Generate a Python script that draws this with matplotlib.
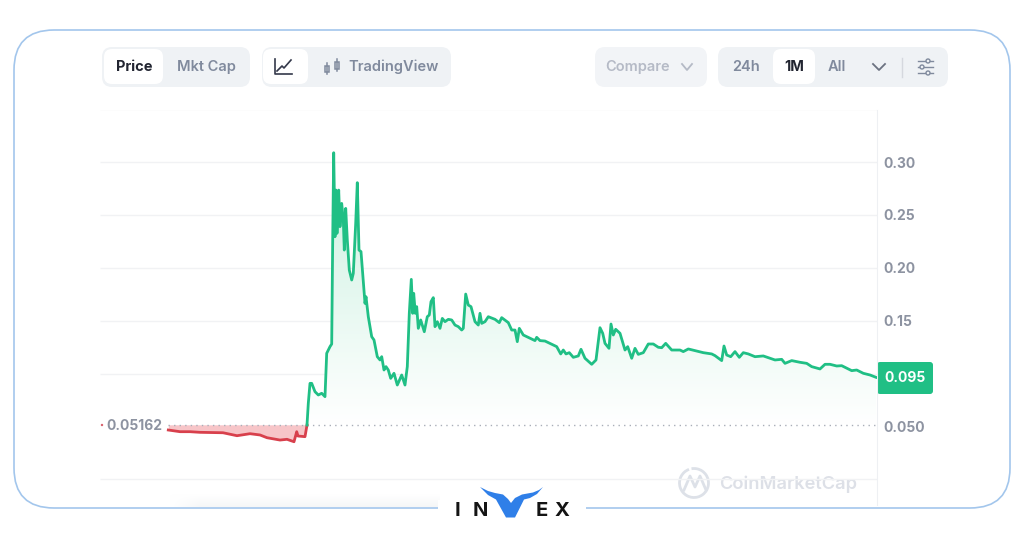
import numpy as np
import matplotlib
matplotlib.use('Agg')
import matplotlib.pyplot as plt
from matplotlib.patches import FancyBboxPatch, Rectangle, Circle, Arc, Polygon

plt.rcParams['font.family'] = ['Inter', 'DejaVu Sans']

# hours since the start of the window, price in USD
red_hours = [0.3, 12, 22, 32, 55, 69, 82, 92, 99, 112, 119, 126, 128.7, 130, 137, 139]
red_price = [.0467, .0451, .0451, .0445, .0441, .0413, .0432, .0420, .0394, .0372, .0379, .0356,
             .0451, .0410, .0404, .0514]

green_hours = [139, 140.3, 142, 143.7, 147, 150.3, 153.7, 157, 158.7, 162, 163.7, 164.7, 165.7, 167, 168,
               169, 170.7, 172, 173.7, 175.3, 176.3, 177.7, 179.3, 181.3, 183.7, 185.3, 187.7, 189.3, 191,
               193, 194.7, 197, 198, 200.3, 203.7, 206, 209.3, 212, 213.7, 216, 218, 220.3, 222.7, 226,
               229.3, 233.7, 237, 239.3, 241.3, 243.3, 244.7, 245.7, 247.3, 248.7, 250.3, 252.7, 256.3,
               259.3, 261.3, 263, 265.3, 267, 269.3, 272, 274.3, 277, 280.3, 283.7, 287, 290.3, 293.7,
               295.3, 297.7, 300.3, 303, 307, 310.3, 312, 313.7, 317, 320.3,
               327, 331.3, 333.7, 340.3, 343.7, 347, 349.3, 351.3, 355.3, 362, 367, 368.7, 372, 377,
               383.7, 388.7, 392.7, 395.3, 398, 401.3, 405.3, 410.3, 413, 417, 423.7, 428, 432, 434.7,
               437, 441, 443, 445.3, 447.7, 452, 457, 459.7, 463.7, 467, 470.3, 475.3, 480.3, 485.3,
               490.3, 493.7, 497.7, 503.7, 512, 515.3, 520.3,
               535.3, 543.7, 547, 553.7, 556, 558.7, 562.7, 567, 571.3, 575.3, 580.3, 587, 595.3, 607,
               613.7, 617, 623.7, 632, 638.7, 643.7, 652, 657, 662, 668.7, 673.7, 683.7, 688.7, 695.3,
               702, 708]
green_price = [.0514, .0719, .0908, .0908, .0829, .0798, .0814, .0782, .1192, .1255, .1280, .2263, .3088,
               .2294, .2735, .2326, .2735, .2389, .2609, .2452, .2168, .2562, .2263, .1979, .1885, .1948,
               .2420, .2805, .2168, .2153, .1948, .1664, .1727, .1538, .1349, .1318, .1160, .1129, .1160,
               .1034, .1066, .1034, .0955, .1003, .0892, .0987, .0892, .1066, .1570, .1891, .1570, .1759,
               .1570, .1633, .1428, .1507, .1396, .1538, .1554, .1680, .1718, .1444, .1491, .1428, .1522,
               .1491, .1513, .1507, .1459, .1444, .1412, .1428, .1752, .1648, .1633, .1491, .1459, .1570,
               .1475, .1491, .1538,
               .1513, .1482, .1529, .1482, .1412, .1412, .1302, .1428, .1365, .1334, .1312, .1343, .1312,
               .1308, .1277, .1255, .1186, .1223, .1186, .1198, .1154, .1167, .1230, .1145, .1088, .1129,
               .1434, .1381, .1286, .1239, .1469, .1365, .1419, .1381, .1223, .1255, .1145, .1239, .1182,
               .1198, .1280, .1280, .1249, .1245, .1286, .1223, .1223, .1208, .1233,
               .1198, .1186, .1170, .1123, .1261, .1176, .1160, .1208, .1154, .1198, .1186, .1160, .1167,
               .1129, .1135, .1097, .1123, .1107, .1097, .1066, .1044, .1088, .1088, .1072, .1075, .1028,
               .1034, .1003, .0987, .0965]

baseline = 0.05162
last_price = '0.095'
grid_levels = [0, .10, .15, .20, .25, .30, .35]
tick_levels = [.05, .10, .15, .20, .25, .30]
tick_labels = ['0.050', '', '0.15', '0.20', '0.25', '0.30']

W, H = 1024, 538
GREEN = '#20bf85'
RED = '#d8404c'
GREY = '#8d93a1'

fig = plt.figure(figsize=(W / 100, H / 100), dpi=100, facecolor='white')

# page layer in pixel coordinates
bg = fig.add_axes([0, 0, 1, 1], zorder=0)
bg.set_xlim(0, W)
bg.set_ylim(H, 0)
bg.axis('off')

# chart
ax = fig.add_axes([100 / W, 1 - 505 / H, 777 / W, 395 / H], zorder=1)
ax.patch.set_alpha(0)
for s in ['top', 'left', 'bottom']:
    ax.spines[s].set_visible(False)
ax.spines['right'].set_color('#eef0f3')
ax.yaxis.tick_right()
ax.set_xticks([])
ax.set_yticks(tick_levels)
ax.set_yticklabels(tick_labels, color=GREY, fontsize=10, fontweight='bold')
ax.tick_params(axis='y', length=0, pad=4.5)
ax.set_xlim(-68, 709)
ax.set_ylim(-.0242, .3492)
ax.hlines(grid_levels, -68, 709, color='#f1f2f4', lw=1, zorder=0)

# green area fades towards the baseline
grad = np.linspace(1, 0, 200).reshape(-1, 1)
cmap = matplotlib.colors.LinearSegmentedColormap.from_list('g', ['#ffffff', '#c9f0df'])
im = ax.imshow(grad, extent=[139, 709, baseline, .3088], aspect='auto', cmap=cmap, zorder=1)
area = ax.fill_between(green_hours, baseline, green_price, color='none')
im.set_clip_path(area.get_paths()[0], transform=ax.transData)
ax.set_xlim(-68, 709)
ax.set_ylim(-.0242, .3492)

ax.fill_between(red_hours, baseline, red_price, color='#f7c5c8', lw=0, zorder=2)
ax.hlines(baseline, 0, 709, color='#a9aeb8', lw=1, ls=(0, (1, 3)), zorder=2)
ax.plot(red_hours, red_price, color=RED, lw=2, zorder=3, solid_joinstyle='round')
ax.plot(green_hours, green_price, color=GREEN, lw=2, zorder=3, solid_joinstyle='round')


def box(x0, y0, x1, y1, color, r=8, z=2):
    bg.add_patch(FancyBboxPatch((x0 + r, y0 + r), x1 - x0 - 2 * r, y1 - y0 - 2 * r,
                                boxstyle='round,pad=%d,rounding_size=%d' % (r, r),
                                fc=color, ec='none', zorder=z))


def label(x, y, s, color, size=10.5, weight='semibold', ha='center'):
    bg.text(x, y, s, color=color, fontsize=size, fontweight=weight, ha=ha, va='center', zorder=5)


# outer frame
bg.add_patch(FancyBboxPatch((54, 70), 916, 398, boxstyle='round,pad=40,rounding_size=40',
                            fc='none', ec='#a3c6ec', lw=1.2, zorder=1))
bg.add_patch(Rectangle((438, 500), 148, 16, fc='white', ec='none', zorder=1.5))

# faint shadow at the foot of the chart, fades in from the left
sx = np.clip(np.linspace(0, 270, 270) / 30, 0, 1).reshape(1, -1)
sy = np.linspace(0, 1, 30).reshape(-1, 1)
bg.imshow(sx * sy, extent=[170, 440, 507, 494], aspect='auto', zorder=0.5, alpha=.5,
          cmap=matplotlib.colors.LinearSegmentedColormap.from_list('s', ['#ffffff', '#eceef0']))
bg.set_xlim(0, W)
bg.set_ylim(H, 0)

# buttons left
box(102, 47, 250, 87, '#eff2f5', r=10)
box(104, 49, 163, 84, 'white')
label(134, 67, 'Price', '#222531', weight='bold')
label(206, 67, 'Mkt Cap', '#808a9d')
box(262, 47, 451, 87, '#eff2f5', r=10)
box(263, 49, 308, 84, 'white')
bg.plot([275, 275, 292], [59, 74, 74], color='#33384a', lw=1.2, zorder=5)
bg.plot([277, 282, 284, 291], [71, 66, 68, 60], color='#33384a', lw=1.2, zorder=5)
for cx, y0, y1 in [(327, 66, 72), (337, 62, 69)]:
    bg.add_patch(Rectangle((cx - 2, y0), 4, y1 - y0, fc='none', ec='#808a9d', lw=1.1, zorder=5))
    bg.plot([cx, cx], [y0 - 3, y1 + 2], color='#808a9d', lw=1.1, zorder=4)
label(393.5, 67, 'TradingView', '#808a9d')

# buttons right
box(595, 47, 707, 87, '#f2f4f7', r=10)
label(638, 67, 'Compare', '#b5bac6')
bg.plot([682, 687, 692], [64, 70, 64], color='#b5bac6', lw=1.3, zorder=5)
box(718, 47, 948, 87, '#eff2f5', r=10)
box(773, 49, 815, 84, 'white')
label(746, 67, '24h', '#808a9d')
label(794, 67, '1M', '#222531', weight='bold')
label(837, 67, 'All', '#808a9d')
bg.plot([873, 879, 885], [64, 70, 64], color='#6b7280', lw=1.3, zorder=5)
bg.plot([902, 902], [58, 77], color='#d5d8de', lw=1, zorder=5)
for ly, kx in [(61, 928), (67, 922), (73, 928)]:
    bg.plot([918, 933], [ly, ly], color='#808a9d', lw=1, zorder=5)
    bg.add_patch(Circle((kx, ly), 2, fc='#eff2f5', ec='#808a9d', lw=1, zorder=6))

# left and right price labels
label(162, 426.5, '0.05162', GREY, ha='right', weight='bold', size=10)
bg.add_patch(Circle((102, 425), 1.2, fc='#d8606c', ec='none', zorder=5))
box(877, 362, 933, 394, GREEN, r=3)
label(905, 378, last_price, 'white', weight='bold', size=10)

# watermark
bg.add_patch(Arc((694, 483), 29, 29, theta1=-100, theta2=250, color='#dde1e8', lw=2, zorder=5))
bg.plot([684, 690, 695, 700, 706], [490, 476, 487, 476, 490], color='#dde1e8', lw=2, zorder=5)
label(788, 484, 'CoinMarketCap', '#dde0e7', size=13.2)

# logo
for x, s in [(458, 'I'), (480, 'N'), (542, 'E'), (562, 'X')]:
    label(x, 511.5, s, '#141414', size=14.5, weight='bold')
bg.add_patch(Polygon([[480, 487], [488, 491], [495, 493], [503, 494.5], [508, 499], [511, 503], [515, 498],
                      [522, 494.5], [533, 492.5], [539, 490], [543, 487], [537, 494], [530, 498], [524, 499.5],
                      [515, 517.5], [506, 517.5], [496, 499.5], [488, 495]],
                     fc='#2f7fe8', ec='none', zorder=6))

fig.savefig('out.png', dpi=100, facecolor='white')
